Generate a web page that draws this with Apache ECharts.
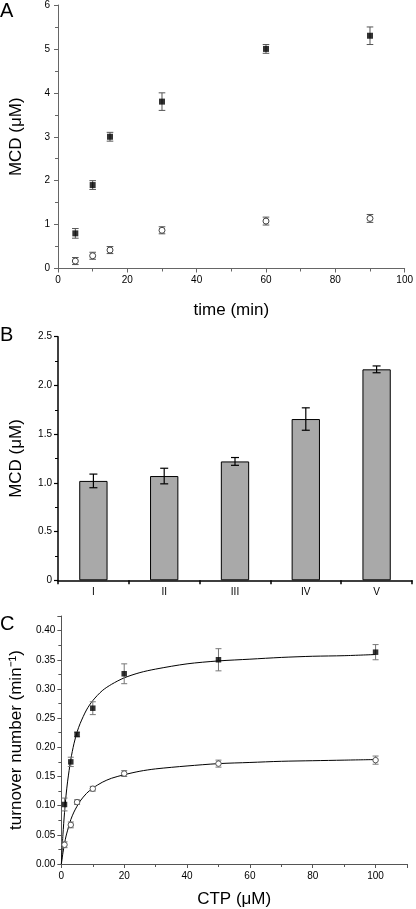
<!DOCTYPE html>
<html>
<head>
<meta charset="utf-8">
<script src="https://cdn.jsdelivr.net/npm/echarts@6/dist/echarts.min.js"></script>
<style>
html,body{margin:0;padding:0;background:#fff;}
#chart{width:416px;height:909px;}
</style>
</head>
<body>
<div id="chart"></div>
<script>
// ---- Panel A data ----
const aTime = [5, 10, 15, 30, 60, 90];
const aFilled = [0.8, 1.9, 3.0, 3.8, 5.0, 5.3];
const aFilledErr = [0.11, 0.1, 0.1, 0.2, 0.1, 0.2];
const aOpen = [0.17, 0.29, 0.42, 0.87, 1.08, 1.14];
const aOpenErr = [0.08, 0.08, 0.08, 0.08, 0.09, 0.09];
const aXTicks = [0, 20, 40, 60, 80, 100];
const aYTicks = [0, 1, 2, 3, 4, 5, 6];

// ---- Panel B data ----
const bCats = ['I', 'II', 'III', 'IV', 'V'];
const bValues = [1.02, 1.07, 1.22, 1.655, 2.165];
const bErr = [0.07, 0.08, 0.04, 0.115, 0.035];
const bYTicks = ['0', '0.5', '1.0', '1.5', '2.0', '2.5'];

// ---- Panel C data ----
const cCTP = [1, 3, 5, 10, 20, 50, 100];
const cFilled = [0.102, 0.175, 0.222, 0.267, 0.326, 0.350, 0.363];
const cFilledErr = [0.011, 0.008, 0.004, 0.011, 0.017, 0.019, 0.013];
const cOpen = [0.033, 0.067, 0.106, 0.129, 0.155, 0.172, 0.178];
const cOpenErr = [0.005, 0.005, 0.004, 0.004, 0.005, 0.006, 0.007];
// fitted curves
const cFitX = [0, 0.5, 1, 1.5, 2, 3, 4, 5, 6, 8, 10, 13, 16, 20, 25, 30, 40, 50, 60, 70, 80, 90, 100];
const cFitFilled = [0, 0.050, 0.088, 0.118, 0.142, 0.179, 0.206, 0.226, 0.241, 0.264, 0.280, 0.297, 0.308, 0.319, 0.328, 0.334, 0.343, 0.348, 0.351, 0.354, 0.356, 0.357, 0.359];
const cFitOpen = [0, 0.019, 0.035, 0.048, 0.058, 0.076, 0.089, 0.099, 0.108, 0.121, 0.130, 0.140, 0.147, 0.153, 0.159, 0.163, 0.168, 0.172, 0.174, 0.176, 0.177, 0.178, 0.179];

const FONT = '"Liberation Sans", Arial, sans-serif';

function errSeries(xi, yi, xs, ys, errs, color, halfCap, width) {
  return {
    type: 'custom',
    xAxisIndex: xi, yAxisIndex: yi,
    z: 3,
    silent: true,
    data: xs.map((x, i) => [x, ys[i] - errs[i], ys[i] + errs[i]]),
    renderItem: function (params, api) {
      const x = api.value(0);
      const lo = api.coord([x, api.value(1)]);
      const hi = api.coord([x, api.value(2)]);
      const st = { stroke: color, lineWidth: width };
      return {
        type: 'group',
        children: [
          { type: 'line', shape: { x1: lo[0], y1: lo[1], x2: hi[0], y2: hi[1] }, style: st },
          { type: 'line', shape: { x1: lo[0] - halfCap, y1: lo[1], x2: lo[0] + halfCap, y2: lo[1] }, style: st },
          { type: 'line', shape: { x1: hi[0] - halfCap, y1: hi[1], x2: hi[0] + halfCap, y2: hi[1] }, style: st }
        ]
      };
    }
  };
}

function valueAxis(gi, min, max, interval, color, extra) {
  return Object.assign({
    type: 'value', gridIndex: gi, min: min, max: max, interval: interval,
    axisLine: { show: true, onZero: false, lineStyle: { color: color, width: 1 } },
    axisTick: { show: true, inside: false, length: 4, lineStyle: { color: color } },
    minorTick: { show: true, splitNumber: 2, length: 3, lineStyle: { color: color } },
    splitLine: { show: false },
    axisLabel: { color: '#000', fontSize: 10, fontFamily: FONT, margin: 7 },
    nameTextStyle: { color: '#000', fontSize: 17, fontFamily: FONT }
  }, extra || {});
}

const chart = echarts.init(document.getElementById('chart'), null, { renderer: 'canvas' });

const option = {
  animation: false,
  backgroundColor: '#fff',
  grid: [
    { left: 56, top: 5, width: 351, height: 263.5 },
    { left: 56, top: 336.7, width: 356, height: 243.6 },
    { left: 56, top: 616, width: 351, height: 249.3 }
  ],
  xAxis: [
    valueAxis(0, 0, 100, 20, '#666', {
      name: 'time (min)', nameLocation: 'middle', nameGap: 33
    }),
    {
      type: 'category', gridIndex: 1, data: bCats,
      axisLine: { show: true, lineStyle: { color: '#000', width: 1.5 } },
      axisTick: { show: true, alignWithLabel: false, length: 4, lineStyle: { color: '#000', width: 1.5 } },
      axisLabel: { color: '#000', fontSize: 10, fontFamily: FONT, margin: 7 }
    },
    valueAxis(2, 0, 110, 20, '#555', {
      name: 'CTP (μM)', nameLocation: 'middle', nameGap: 27,
      axisLabel: {
        color: '#000', fontSize: 10, fontFamily: FONT, margin: 7,
        formatter: v => (v > 100 ? '' : String(v))
      }
    })
  ],
  yAxis: [
    valueAxis(0, 0, 6, 1, '#666', {
      name: 'MCD (μM)', nameLocation: 'middle', nameGap: 33,
      axisLabel: { color: '#000', fontSize: 10, fontFamily: FONT, margin: 8,
        formatter: v => String(aYTicks[Math.round(v)]) }
    }),
    valueAxis(1, 0, 2.5, 0.5, '#000', {
      name: 'MCD (μM)', nameLocation: 'middle', nameGap: 33,
      axisLine: { show: true, lineStyle: { color: '#000', width: 1.5 } },
      axisTick: { show: true, length: 4, lineStyle: { color: '#000', width: 1.2 } },
      axisLabel: { color: '#000', fontSize: 10, fontFamily: FONT, margin: 6,
        formatter: v => bYTicks[Math.round(v * 2)] }
    }),
    valueAxis(2, 0, 0.425, 0.05, '#555', {
      name: 'turnover number (min⁻¹)', nameLocation: 'middle', nameGap: 35,
      axisLabel: { color: '#000', fontSize: 10, fontFamily: FONT, margin: 6,
        formatter: v => (v > 0.401 ? '' : v.toFixed(2)) }
    })
  ],
  series: [
    // Panel A
    errSeries(0, 0, aTime, aFilled, aFilledErr, '#555', 3.3, 1),
    errSeries(0, 0, aTime, aOpen, aOpenErr, '#555', 3.3, 1),
    {
      type: 'scatter', xAxisIndex: 0, yAxisIndex: 0, z: 5,
      symbol: 'rect', symbolSize: 6,
      itemStyle: { color: '#000' },
      data: aTime.map((t, i) => [t, aFilled[i]])
    },
    {
      type: 'scatter', xAxisIndex: 0, yAxisIndex: 0, z: 5,
      symbol: 'circle', symbolSize: 6,
      itemStyle: { color: '#fff', borderColor: '#444', borderWidth: 1, opacity: 1 },
      data: aTime.map((t, i) => [t, aOpen[i]])
    },
    // Panel B
    {
      type: 'bar', xAxisIndex: 1, yAxisIndex: 1, z: 2,
      barWidth: '40%',
      itemStyle: { color: '#a9a9a9', borderColor: '#000', borderWidth: 1 },
      data: bValues
    },
    errSeries(1, 1, bCats.map((c, i) => i), bValues, bErr, '#000', 4, 1.2),
    // Panel C
    {
      type: 'line', xAxisIndex: 2, yAxisIndex: 2, z: 2,
      smooth: 0.3, showSymbol: false, symbol: 'none',
      lineStyle: { color: '#000', width: 1 },
      data: cFitX.map((x, i) => [x, cFitFilled[i]])
    },
    {
      type: 'line', xAxisIndex: 2, yAxisIndex: 2, z: 2,
      smooth: 0.3, showSymbol: false, symbol: 'none',
      lineStyle: { color: '#000', width: 1 },
      data: cFitX.map((x, i) => [x, cFitOpen[i]])
    },
    errSeries(2, 2, cCTP, cFilled, cFilledErr, '#777', 3, 1),
    errSeries(2, 2, cCTP, cOpen, cOpenErr, '#777', 3, 1),
    {
      type: 'scatter', xAxisIndex: 2, yAxisIndex: 2, z: 5,
      symbol: 'rect', symbolSize: 5.5,
      itemStyle: { color: '#000' },
      data: cCTP.map((t, i) => [t, cFilled[i]])
    },
    {
      type: 'scatter', xAxisIndex: 2, yAxisIndex: 2, z: 5,
      symbol: 'circle', symbolSize: 5.5,
      itemStyle: { color: '#fff', borderColor: '#555', borderWidth: 1, opacity: 1 },
      data: cCTP.map((t, i) => [t, cOpen[i]])
    }
  ],
  graphic: [
    { type: 'text', left: 0, top: 1, style: { text: 'A', font: '20px ' + FONT, fill: '#000' } },
    { type: 'text', left: 0, top: 325, style: { text: 'B', font: '20px ' + FONT, fill: '#000' } },
    { type: 'text', left: 0, top: 614, style: { text: 'C', font: '20px ' + FONT, fill: '#000' } }
  ]
};
chart.setOption(option);
</script>
</body>
</html>
